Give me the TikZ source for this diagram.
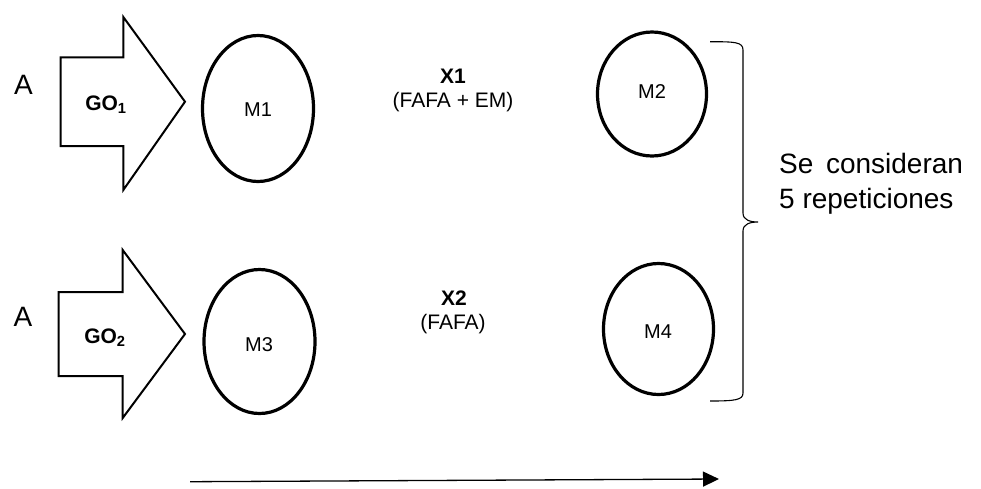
\documentclass[tikz,border=0pt]{standalone}
\usepackage{fontspec}
\setmainfont{Liberation Sans}
\usetikzlibrary{shapes.geometric,arrows.meta}
\begin{document}
\begin{tikzpicture}[x=1pt,y=-1pt,
  blockarrow/.style={draw,line width=2pt,line join=miter},
  sample/.style={draw,ellipse,line width=3.2pt,inner sep=0pt},
  bigtxt/.style={font=\fontsize{28}{35}\selectfont,inner sep=0pt},
  midtxt/.style={font=\fontsize{20}{24}\selectfont,inner sep=0pt},
  treat/.style={font=\fontsize{21}{26}\selectfont,align=center,inner sep=0pt},
  gotxt/.style={font=\fontsize{21}{24}\selectfont\bfseries,inner sep=0pt}]
\useasboundingbox (0,0) rectangle (981,488);

% block arrows feeding the initial groups
\draw[blockarrow] (60.7,57.3) -- (123.3,57.3) -- (123.3,17) -- (185,101.7)
  -- (123.3,190) -- (123.3,146) -- (60.7,146) -- cycle;
\draw[blockarrow] (58.7,292) -- (122.7,292) -- (122.7,250) -- (185,334)
  -- (122.7,418) -- (122.7,376) -- (58.7,376) -- cycle;

\node[bigtxt] (a1) at (23.5,85) {A};
\node[bigtxt] (a2) at (23,317) {A};
\node[gotxt] (go1) at (106,105) {GO\textsubscript{1}};
\node[gotxt] (go2) at (105,338) {GO\textsubscript{2}};

% measurement ellipses
\node[sample,minimum width=111pt,minimum height=146pt] (m1) at (258,108.5) {};
\node[midtxt] (m1t) at (258,110) {M1};
\node[sample,minimum width=111pt,minimum height=144pt] (m3) at (259.5,341.5) {};
\node[midtxt] (m3t) at (259,345) {M3};
\node[sample,minimum width=109pt,minimum height=124pt] (m2) at (652,94) {};
\node[midtxt] (m2t) at (652,92) {M2};
\node[sample,minimum width=110pt,minimum height=131pt] (m4) at (658.5,329) {};
\node[midtxt] (m4t) at (658,332) {M4};

% treatments
\node[treat] (x1) at (453,76) {\textbf{X1}};
\node[treat] (x1d) at (453,102) {(FAFA + EM)};
\node[treat] (x2) at (454,298) {\textbf{X2}};
\node[treat] (x2d) at (453,324) {(FAFA)};

% brace grouping the final measurements
\draw[line width=1.1pt] (710,41.7) .. controls (735,41.7) and (743,42) .. (743,50)
  -- (743,213) .. controls (743,220) and (750,222) .. (758,222)
  .. controls (750,222) and (743,224) .. (743,231)
  -- (743,393) .. controls (743,400) and (735,401) .. (710,401);
\node[bigtxt,anchor=west,align=left] (rep) at (779,184)
  {Se\hspace{0.45em}consideran\\5 repeticiones};

% time axis
\coordinate (t0) at (190,481.7);
\coordinate (t1) at (719,479);
\draw[line width=1.3pt,-{Triangle[length=16pt,width=15pt]}] (t0) -- (t1);
\end{tikzpicture}
\end{document}
